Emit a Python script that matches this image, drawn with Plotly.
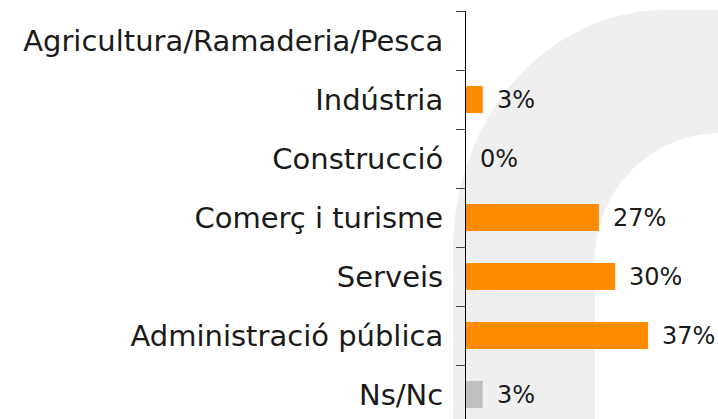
import numpy as np
import plotly.graph_objects as go

categories = ["Agricultura/Ramaderia/Pesca", "Indústria", "Construcció",
              "Comerç i turisme", "Serveis", "Administració pública", "Ns/Nc"]
values = [None, 3.4, 0, 27, 30.3, 37, 3.4]
labels = ["", "3%", "0%", "27%", "30%", "37%", "3%"]
colors = ["#FF8C00"] * 6 + ["#BFBFBF"]

W, H = 718, 419
ML, MT, MR, MB = 466, 11, 0, 0
PW, PH = W - ML - MR, H - MT - MB

def px(x):
    return (x - ML) / PW

def py(y):
    return (H - MB - y) / PH

# watermark ring (decorative background)
pts = []
for t in np.linspace(np.pi / 2, np.pi, 40):
    pts.append((665 + 212 * np.cos(t), 250 - 240 * np.sin(t)))
pts = [(760, 10)] + pts + [(453, 440), (595, 440)]
for t in np.linspace(np.pi, np.pi / 2, 40):
    pts.append((720 + 125 * np.cos(t), 260 - 127 * np.sin(t)))
pts += [(760, 133)]
path = "M " + " L ".join(f"{px(a):.4f},{py(b):.4f}" for a, b in pts) + " Z"

fig = go.Figure(go.Bar(
    x=values, y=categories, orientation="h",
    marker=dict(color=colors, line=dict(width=0)),
    width=0.46, hoverinfo="skip",
))

for c, v, t in zip(categories, values, labels):
    if v is None:
        continue
    fig.add_annotation(x=v, y=c, text=t, showarrow=False, xanchor="left",
                       xshift=12, font=dict(size=24, color="#1a1a1a",
                                            family="DejaVu Sans"))

fig.add_shape(type="path", path=path, xref="paper", yref="paper",
              fillcolor="#EFEFEF", line=dict(width=0), layer="below")

fig.update_layout(
    width=W, height=H,
    margin=dict(l=ML, r=MR, t=MT, b=MB, pad=0, autoexpand=False),
    paper_bgcolor="white", plot_bgcolor="rgba(0,0,0,0)",
    showlegend=False,
    font=dict(family="DejaVu Sans", color="#1a1a1a", size=29),
    xaxis=dict(range=[0, 51.2], visible=False, fixedrange=True,
               automargin=False),
    yaxis=dict(categoryorder="array", categoryarray=categories,
               range=[6.415, -0.5], showline=True, linecolor="#000000",
               linewidth=1, ticks="outside", ticklen=9, tickcolor="#404040",
               tickson="boundaries", showgrid=False, zeroline=False,
               automargin=False,
               ticklabelstandoff=16, tickfont=dict(size=29)),
)

fig.write_html("out.html", config={"displayModeBar": False},
               post_script="document.body.style.margin='0';"
                           "document.body.style.padding='0';"
                           "document.body.style.overflow='hidden';")
